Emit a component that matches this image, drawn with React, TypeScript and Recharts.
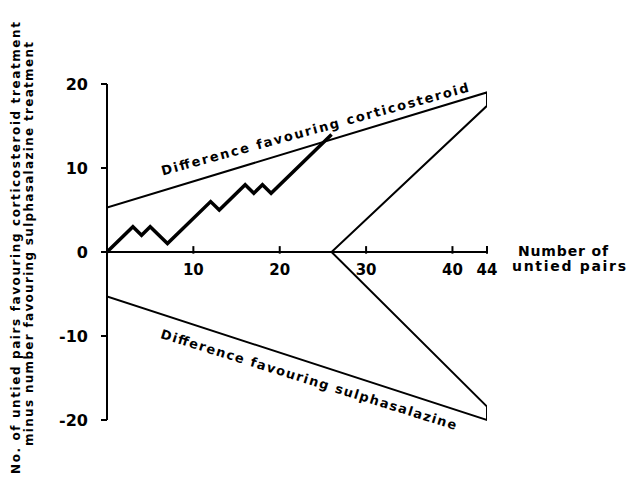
import React from "react";
import {
  ComposedChart,
  Line,
  XAxis,
  YAxis,
  ReferenceLine,
  ReferenceDot,
} from "recharts";

// observed path of untied pairs (turning points only)
const pathPoints = [
  { x: 0, y: 0 },
  { x: 3, y: 3 },
  { x: 4, y: 2 },
  { x: 5, y: 3 },
  { x: 7, y: 1 },
  { x: 12, y: 6 },
  { x: 13, y: 5 },
  { x: 16, y: 8 },
  { x: 17, y: 7 },
  { x: 18, y: 8 },
  { x: 19, y: 7 },
  { x: 26, y: 14 },
];

// boundaries of the sequential plan, drawn as one outline
const boundaryPoints = [
  { x: 0, y: 5.3 },
  { x: 44, y: 19 },
  { x: 44, y: 17.4 },
  { x: 26, y: 0 },
  { x: 44, y: -18.4 },
  { x: 44, y: -20 },
  { x: 0, y: -5.3 },
];

const xTicks = [10, 20, 30, 40, 44];
const yTicks = [-20, -10, 0, 10, 20];

const FONT = "'DejaVu Sans', sans-serif";

const YLabel = () => (
  <g fontFamily={FONT} fontWeight="bold" fill="#000">
    <g transform="translate(12, 240) rotate(-90)">
      <text x={0} y={0} textAnchor="middle" fontSize={12} textLength={452} lengthAdjust="spacing">
        No. of untied pairs favouring corticosteroid treatment
      </text>
    </g>
    <g transform="translate(25, 236) rotate(-90)">
      <text x={0} y={0} textAnchor="middle" fontSize={12} textLength={404} lengthAdjust="spacing">
        minus number favouring sulphasalazine treatment
      </text>
    </g>
  </g>
);

const rotatedText = (label: string, angle: number, len: number) => (props: any) => {
  const { cx, cy } = props;
  return (
    <text
      x={cx}
      y={cy}
      textAnchor="middle"
      fontFamily={FONT}
      fontWeight="bold"
      fontSize={13}
      textLength={len}
      lengthAdjust="spacing"
      transform={`rotate(${angle}, ${cx}, ${cy})`}
    >
      {label}
    </text>
  );
};

const xTickLabel = (value: number) => (props: any) => {
  const { cx, cy } = props;
  return (
    <text
      x={cx}
      y={cy + 23}
      textAnchor="middle"
      fontFamily={FONT}
      fontWeight="bold"
      fontSize={15}
    >
      {value}
    </text>
  );
};

const axisTitle = (props: any) => {
  const { cx, cy } = props;
  return (
    <g fontFamily={FONT} fontWeight="bold" fontSize={14}>
      <text x={cx + 76} y={cy + 4} textAnchor="middle" textLength={90} lengthAdjust="spacing">
        Number of
      </text>
      <text x={cx + 82} y={cy + 19} textAnchor="middle" textLength={114} lengthAdjust="spacing">
        untied pairs
      </text>
    </g>
  );
};

export default function App() {
  return (
    <ComposedChart
      width={620}
      height={486}
      margin={{ top: 76, right: 141, bottom: 74, left: 49 }}
      style={{ background: "#fff" }}
    >
      <XAxis
        type="number"
        dataKey="x"
        domain={[0, 44]}
        hide
        allowDataOverflow
      />
      <YAxis
        type="number"
        domain={[-20, 20]}
        ticks={yTicks}
        width={50}
        axisLine={{ stroke: "#000", strokeWidth: 2 }}
        tickLine={{ stroke: "#000", strokeWidth: 2 }}
        tickSize={6}
        tickMargin={13}
        tick={{ fill: "#000", fontFamily: FONT, fontWeight: "bold", fontSize: 16 }}
        label={{ content: () => <YLabel /> }}
      />
      <ReferenceLine
        segment={[{ x: 0, y: 0 }, { x: 44, y: 0 }]}
        stroke="#000"
        strokeWidth={2}
      />
      {xTicks.map((t) => (
        <ReferenceLine
          key={`t${t}`}
          segment={[{ x: t, y: -0.2 }, { x: t, y: 0.7 }]}
          stroke="#000"
          strokeWidth={2}
        />
      ))}
      {xTicks.map((t) => (
        <ReferenceDot key={`l${t}`} x={t} y={0} r={0} shape={xTickLabel(t)} />
      ))}
      <ReferenceDot x={44} y={0} r={0} shape={axisTitle} />
      <ReferenceDot
        x={24.2}
        y={14.1}
        r={0}
        shape={rotatedText("Difference favouring corticosteroid", -15.3, 318)}
      />
      <ReferenceDot
        x={23.2}
        y={-15.7}
        r={0}
        shape={rotatedText("Difference favouring sulphasalazine", 17.3, 309)}
      />
      <Line
        data={boundaryPoints}
        dataKey="y"
        type="linear"
        stroke="#000"
        strokeWidth={2}
        dot={false}
        isAnimationActive={false}
      />
      <Line
        data={pathPoints}
        dataKey="y"
        type="linear"
        stroke="#000"
        strokeWidth={3.5}
        strokeLinejoin="miter"
        dot={false}
        isAnimationActive={false}
      />
    </ComposedChart>
  );
}
